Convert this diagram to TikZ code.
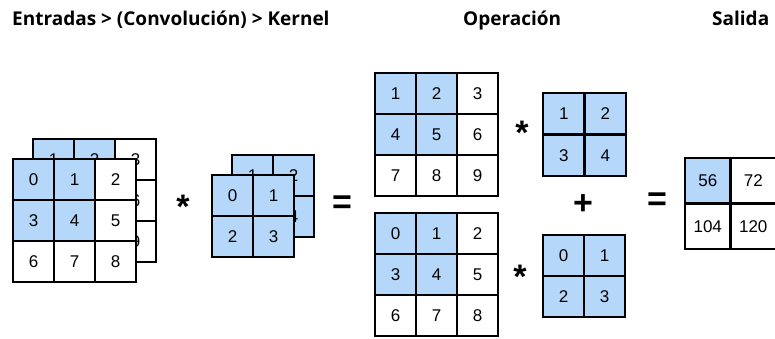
\documentclass[tikz,border=0pt]{standalone}
\usepackage{fontspec}
\setmainfont{Liberation Sans}
\newfontfamily\hdrfont{Open Sans}
\definecolor{cellblue}{RGB}{181,215,250}
\tikzset{
  cellbox/.style={draw=black, line width=2.7pt, fill=white, inner sep=0pt,
    font=\fontsize{17}{17}\selectfont},
  bluecell/.style={fill=cellblue},
  whitecell/.style={fill=white},
  header/.style={font=\hdrfont\bfseries\fontsize{19}{22}\selectfont, anchor=base west, inner sep=0pt},
  opsym/.style={font=\bfseries\fontsize{#1}{#1}\selectfont, inner sep=0pt},
}
% grid of square cells: name, left, top, cell size, entries row/col/text/style
\newcommand\cellgrid[5]{%
  \foreach \r/\c/\t/\s in {#5}{%
    \node[cellbox,\s,minimum size=#4pt] (#1-\r-\c)
      at ({#2+(\c-0.5)*#4},{#3+(\r-0.5)*#4}) {\t};
  }%
}
\begin{document}
\begin{tikzpicture}[x=1pt,y=-1pt]
\clip (0,0) rectangle (775,338);
\useasboundingbox (0,0) rectangle (775,338);

% headings
\node[header] (hIn) at (12,25) {Entradas > (Convolución) > Kernel};
\node[header] (hOp) at (463,25) {Operación};
\node[header] (hOut) at (712,25) {Salida};

% input channels (back, then front)
\cellgrid{inB}{33}{139}{41}{1/1/1/bluecell,1/2/2/bluecell,1/3/3/whitecell,
  2/1/4/bluecell,2/2/5/bluecell,2/3/6/whitecell,
  3/1/7/whitecell,3/2/8/whitecell,3/3/9/whitecell}
\cellgrid{inA}{13}{159}{41}{1/1/0/bluecell,1/2/1/bluecell,1/3/2/whitecell,
  2/1/3/bluecell,2/2/4/bluecell,2/3/5/whitecell,
  3/1/6/whitecell,3/2/7/whitecell,3/3/8/whitecell}

\node[opsym=34] (star0) at (183,207) {*};

% kernel channels (back, then front)
\cellgrid{kB}{232}{155}{41}{1/1/1/bluecell,1/2/2/bluecell,2/1/3/bluecell,2/2/4/bluecell}
\cellgrid{kA}{212}{175}{41}{1/1/0/bluecell,1/2/1/bluecell,2/1/2/bluecell,2/2/3/bluecell}

\node[opsym=34] (eq1) at (342,205) {=};

% per-channel products
\cellgrid{opA}{375}{73}{41}{1/1/1/bluecell,1/2/2/bluecell,1/3/3/whitecell,
  2/1/4/bluecell,2/2/5/bluecell,2/3/6/whitecell,
  3/1/7/whitecell,3/2/8/whitecell,3/3/9/whitecell}
\cellgrid{opB}{375}{213}{41}{1/1/0/bluecell,1/2/1/bluecell,1/3/2/whitecell,
  2/1/3/bluecell,2/2/4/bluecell,2/3/5/whitecell,
  3/1/6/whitecell,3/2/7/whitecell,3/3/8/whitecell}

\node[opsym=34] (star1) at (522,133) {*};
\node[opsym=34] (star2) at (520,277) {*};

\cellgrid{kopA}{543}{93}{41.5}{1/1/1/bluecell,1/2/2/bluecell,2/1/3/bluecell,2/2/4/bluecell}
\cellgrid{kopB}{543}{235}{41}{1/1/0/bluecell,1/2/1/bluecell,2/1/2/bluecell,2/2/3/bluecell}

\node[opsym=34] (plus) at (583,205) {+};
\node[opsym=34] (eq2) at (657,202) {=};

% output
\cellgrid{out}{685}{158}{45.5}{1/1/56/bluecell,1/2/72/whitecell,
  2/1/104/whitecell,2/2/120/whitecell}
\end{tikzpicture}
\end{document}
